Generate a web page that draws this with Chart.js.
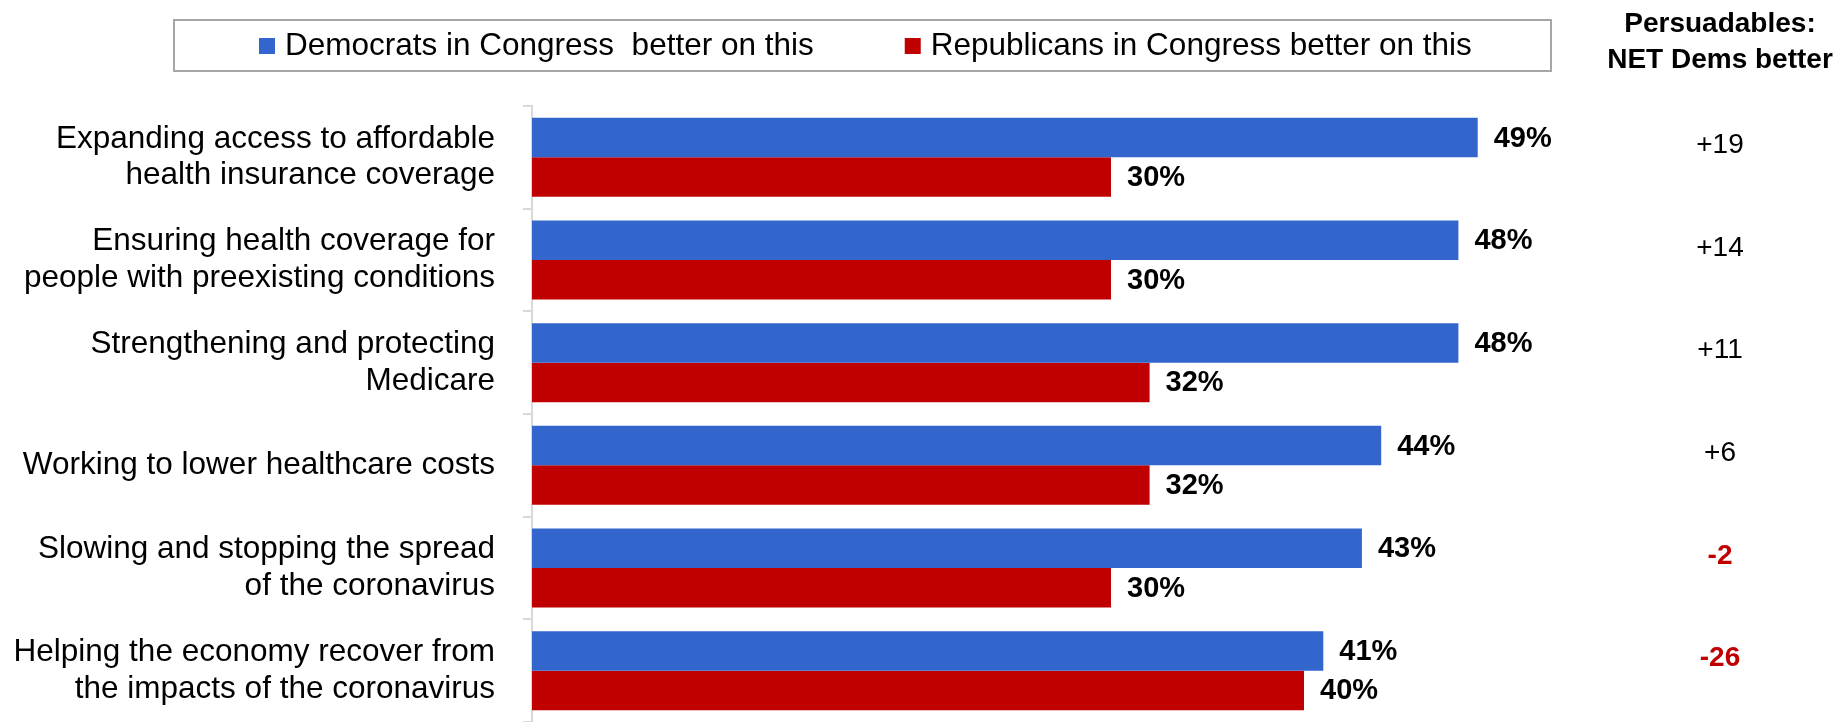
<!DOCTYPE html>
<html lang="en">
<head>
    <meta charset="UTF-8">
    <title>Dems vs Reps in Congress</title>
    <script src="https://cdn.jsdelivr.net/npm/chart.js@4.4.1/dist/chart.umd.min.js"></script>
    <style>
        html, body { margin: 0; padding: 0; background: #fff; }
        #wrap { width: 1837px; height: 722px; }
    </style>
</head>
<body>
<div id="wrap">
    <canvas id="issues"></canvas>
</div>
<script>
    var issues = [
        ["Expanding access to affordable", "health insurance coverage"],
        ["Ensuring health coverage for", "people with preexisting conditions"],
        ["Strengthening and protecting", "Medicare"],
        "Working to lower healthcare costs",
        ["Slowing and stopping the spread", "of the coronavirus"],
        ["Helping the economy recover from", "the impacts of the coronavirus"]
    ];
    var demsBetter = [49, 48, 48, 44, 43, 41];
    var repsBetter = [30, 30, 32, 32, 30, 40];
    var netDems = ["+19", "+14", "+11", "+6", "-2", "-26"];
    var netHeader = ["Persuadables:", "NET Dems better"];

    var FONT = "'Liberation Sans', Arial, sans-serif";

    // bold % next to every bar
    var barLabels = {
        id: 'barLabels',
        afterDatasetsDraw: function (chart) {
            var ctx = chart.ctx;
            ctx.save();
            ctx.font = "bold 29px " + FONT;
            ctx.fillStyle = "#000";
            ctx.textAlign = "left";
            ctx.textBaseline = "middle";
            chart.data.datasets.forEach(function (ds, i) {
                chart.getDatasetMeta(i).data.forEach(function (bar, j) {
                    ctx.fillText(ds.data[j] + "%", bar.x + 16, bar.y + 1);
                });
            });
            ctx.restore();
        }
    };

    // boxed legend + net column on the right
    var extras = {
        id: 'extras',
        afterDraw: function (chart) {
            var ctx = chart.ctx;
            ctx.save();

            ctx.strokeStyle = "#A6A6A6";
            ctx.lineWidth = 2;
            ctx.strokeRect(174, 20, 1377, 51);

            ctx.font = "31.5px " + FONT;
            ctx.textBaseline = "middle";
            ctx.textAlign = "left";
            var x = 259;
            chart.data.datasets.forEach(function (ds) {
                ctx.fillStyle = ds.backgroundColor;
                ctx.fillRect(x, 38, 16, 16);
                ctx.fillStyle = "#000";
                ctx.fillText(ds.label, x + 26, 46);
                x += 26 + ctx.measureText(ds.label).width + 91;
            });

            var colX = 1720;
            ctx.textAlign = "center";
            ctx.textBaseline = "alphabetic";
            ctx.font = "bold 28px " + FONT;
            ctx.fillText(netHeader[0], colX, 32);
            ctx.fillText(netHeader[1], colX, 68);

            var yScale = chart.scales.y;
            ctx.textBaseline = "middle";
            netDems.forEach(function (v, i) {
                var neg = v.charAt(0) === "-";
                ctx.font = (neg ? "bold " : "") + "28px " + FONT;
                ctx.fillStyle = neg ? "#C00000" : "#000";
                ctx.fillText(v, colX, yScale.getPixelForValue(i) - 12);
            });
            ctx.restore();
        }
    };

    var ctx = document.getElementById('issues').getContext("2d");
    var chart = new Chart(ctx, {
        type: 'bar',
        data: {
            labels: issues,
            datasets: [
                {
                    label: "Democrats in Congress  better on this",
                    data: demsBetter,
                    backgroundColor: "#3366CC",
                    categoryPercentage: 0.77,
                    barPercentage: 1.0
                },
                {
                    label: "Republicans in Congress better on this",
                    data: repsBetter,
                    backgroundColor: "#C00000",
                    categoryPercentage: 0.77,
                    barPercentage: 1.0
                }
            ]
        },
        options: {
            indexAxis: 'y',
            responsive: true,
            maintainAspectRatio: false,
            animation: false,
            layout: { padding: { top: 106, left: 0, right: 147, bottom: 0 } },
            plugins: {
                legend: { display: false },
                tooltip: { enabled: false }
            },
            scales: {
                x: { display: false, min: 0, max: 60 },
                y: {
                    afterFit: function (scale) {
                        scale.width = 532;
                        scale.paddingTop = 0;
                        scale.paddingBottom = 0;
                    },
                    grid: {
                        drawOnChartArea: false,
                        drawTicks: true,
                        tickLength: 9,
                        color: "#D9D9D9",
                        lineWidth: 2
                    },
                    border: { color: "#D9D9D9", width: 2 },
                    ticks: {
                        padding: 28,
                        color: "#000",
                        font: { family: FONT, size: 31.5, lineHeight: 1.16 }
                    }
                }
            }
        },
        plugins: [barLabels, extras]
    });
</script>
</body>
</html>
